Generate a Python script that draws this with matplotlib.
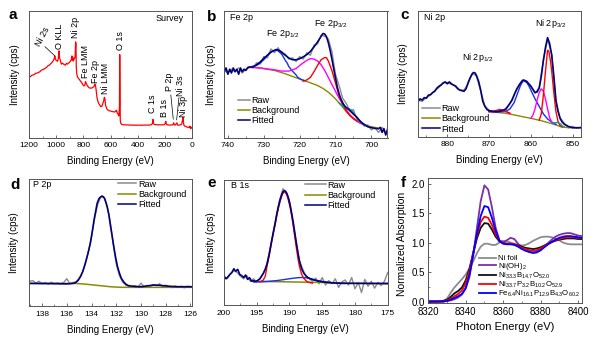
import numpy as np
import matplotlib
matplotlib.use('Agg')
import matplotlib.pyplot as plt
from matplotlib.ticker import MultipleLocator, FormatStrFormatter

plt.rcParams['font.family'] = ['Liberation Sans', 'DejaVu Sans']
plt.rcParams['mathtext.fontset'] = 'custom'
plt.rcParams['mathtext.rm'] = 'Liberation Sans'
plt.rcParams['mathtext.it'] = 'Liberation Sans:italic'
plt.rcParams['mathtext.default'] = 'regular'

# ---------------- data (intensities in % of panel height) ----------------
# a: survey spectrum (binding energy, intensity)
a_survey = [(1200, 48.3), (1190, 48.0), (1180, 49.1), (1170, 49.5), (1160, 49.9), (1150, 50.8), (1140, 50.9),
            (1130, 51.5), (1120, 52.0), (1110, 53.1), (1100, 53.6), (1090, 54.0), (1080, 54.9), (1070, 55.5),
            (1060, 56.8), (1050, 57.2), (1040, 58.4), (1030, 59.4), (1020, 61.0), (1014, 62.5), (1010, 64.5),
            (1005, 61.5), (998, 61.0), (990, 60.2), (984, 62.5), (979, 68.5), (975, 63.0), (970, 61.0),
            (962, 58.0), (955, 58.8), (948, 58.2), (940, 57.6), (932, 57.2), (925, 58.6), (918, 58.0),
            (910, 58.8), (902, 59.4), (895, 60.4), (889, 61.5), (884, 64.5), (881, 61.0), (878, 63.5),
            (874, 60.5), (869, 61.8), (864, 62.5), (860, 65.0), (857, 75.6), (854, 74.0), (852, 56.0),
            (848, 50.0), (843, 48.0), (836, 46.6), (828, 45.8), (820, 44.3), (812, 43.5), (804, 41.8),
            (796, 40.8), (790, 41.0), (784, 44.2), (779, 43.0), (772, 41.2), (764, 40.0), (756, 39.2),
            (746, 39.0), (736, 39.2), (728, 39.8), (720, 40.6), (714, 42.2), (710, 40.8), (705, 37.0),
            (700, 32.0), (694, 29.0), (688, 27.2), (680, 25.8), (672, 24.4), (664, 24.6), (656, 27.0),
            (650, 29.0), (645, 31.8), (641, 30.5), (636, 25.5), (628, 22.8), (620, 21.8), (610, 21.2),
            (600, 20.9), (590, 20.6), (580, 20.4), (570, 20.1), (562, 20.8), (556, 21.6), (550, 19.2),
            (544, 18.4), (538, 17.0), (534, 25.0), (532, 65.5), (530, 40.0), (528, 13.5), (524, 11.2),
            (518, 10.4), (510, 10.1), (490, 10.0), (470, 9.9), (450, 9.8), (430, 9.8), (410, 9.7),
            (390, 9.8), (370, 9.7), (350, 9.8), (330, 9.8), (310, 9.9), (298, 10.2), (292, 11.0),
            (287, 14.3), (283, 11.0), (278, 10.3), (260, 10.1), (240, 10.0), (220, 10.0), (205, 10.1),
            (198, 10.8), (193, 12.8), (189, 10.6), (182, 10.0), (165, 9.8), (150, 9.9), (140, 10.2),
            (135, 11.6), (131, 10.0), (124, 9.8), (116, 10.9), (111, 11.6), (106, 9.8), (96, 9.8),
            (86, 10.0), (76, 10.6), (70, 13.5), (67, 16.0), (64, 13.0), (60, 9.8), (50, 8.8), (40, 8.4),
            (30, 8.0), (20, 8.2), (15, 9.0), (11, 7.0), (7, 8.2), (3, 7.6), (0, 7.5)]
# peak labels: text, energy, bottom of text
a_labels = [('O KLL', 976, 70), ('Ni 2p', 860, 79), ('Fe LMM', 785, 47), ('Fe 2p', 712, 43),
            ('Ni LMM', 636, 34), ('O 1s', 530, 69.5), ('C 1s', 290, 19), ('B 1s', 203, 16.5),
            ('P 2p', 167, 36.5), ('Ni 3s', 88, 33), ('Ni 3p', 64, 16.5)]

# b: Fe 2p
b_raw = [(741, 53), (740, 51), (739, 54), (738, 52), (737, 55), (736, 51), (735, 54), (734, 56), (733, 55),
         (732, 59), (731, 58), (730, 64), (729, 63), (728, 70), (727, 67), (726, 71), (725, 66), (724, 66),
         (723, 62), (722, 63), (721, 60), (720, 64), (719, 62), (718, 67), (717, 65), (716, 73), (715, 74),
         (714, 81), (713, 80), (712, 78), (711, 68), (710, 50), (709, 41), (708, 31), (707, 27), (706, 21),
         (705, 22), (704, 14), (703, 13), (702, 9), (701, 10), (700, 6), (699, 8), (698, 4), (697, 8),
         (696, 3), (695.5, 7)]
b_fit = [(741, 52), (740.5, 55), (740, 50), (739.5, 54), (739, 51), (738.5, 55), (738, 52), (737.5, 54),
         (737, 50), (736.5, 55), (736, 52), (735.5, 54), (735, 53), (734.5, 55), (734, 55.5), (733, 55.7),
         (732, 57.5), (731, 59.7), (730, 62.5), (729, 65), (728, 67.5), (727, 69), (726.5, 69.5), (726, 69.3),
         (725, 67.6), (724, 65), (723, 62.8), (722, 61.5), (721, 61.4), (720, 62.3), (719, 63.7), (718, 65.5),
         (717, 68), (716, 71.6), (715, 75.5), (714, 80), (713.5, 82.2), (713, 81.8), (712.5, 79.6), (712, 75),
         (711.5, 69), (711, 62), (710.5, 54.4), (710, 47), (709.5, 39.8), (709, 34.5), (708.5, 30.5),
         (708, 27.5), (707.5, 25.2), (707, 23.7), (706.5, 22.5), (706, 21.3), (705.5, 19.9), (705, 18.5),
         (704, 15.9), (703, 12.5), (702, 10.3), (701, 8.5), (700, 7.8), (699, 7.2), (698, 6.9), (697.5, 8),
         (697, 4), (696.5, 7), (696, 2), (695.5, 6)]
b_bg = [(734.4, 55.7), (731, 54.9), (727, 53), (724, 50.4), (721, 47.2), (718, 44.3), (715, 41.1), (713.5, 38.8),
        (712, 35.8), (711, 33.3), (710, 30.5), (709, 27.3), (708, 23.9), (707, 20.5), (706, 17.2), (705, 14.8),
        (704, 12.7), (703, 11.2), (702, 10), (701, 9.1), (700, 8.5), (699, 7.9), (698, 7.4)]
b_blue = [(734, 55.7), (732, 57), (731, 58.9), (730, 61.5), (729, 64.7), (728, 67.5), (727.5, 68.4), (726.5, 69),
          (726, 68.5), (725, 66), (724, 61), (723.5, 59), (723, 56), (722, 52.5), (721, 49.5), (720.5, 47.5),
          (719.5, 45.8), (718.5, 44.8)]
b_mag = [(734, 55.7), (731, 55), (729, 54.2), (727, 53.5), (725, 52.5), (723, 52.5), (721, 54.5), (719.5, 58),
         (718, 61), (717, 62.3), (716, 62), (715, 60.5), (714, 57.5), (713, 53), (712, 47.5), (711, 42),
         (710, 36.5), (709, 31), (708, 26.5), (707, 22), (706, 18), (705, 15.2), (704, 13), (703, 11.3), (702, 10)]
b_red = [(719, 44.5), (718, 45.5), (717, 47.5), (716, 52), (715, 57), (714, 61.5), (713, 63.2), (712.5, 63),
         (712, 60.5), (711, 53), (710, 43), (709, 33), (708, 26), (707, 21), (706, 17.5), (705, 15), (704, 13)]
b_teal = [(709, 27.3), (708, 25), (707, 23.5), (706.3, 23), (705.5, 21.5), (704.5, 17.5), (703.5, 13.5),
          (702.5, 11), (701.5, 9.6)]

# c: Ni 2p
c_raw = [(887, 29), (886, 28), (885, 31), (884, 33), (883, 36.5), (882, 39), (881, 43), (880, 43), (879, 41.5),
         (878, 40.5), (877, 37), (876, 37), (875, 42), (874, 50.5), (873, 48), (872, 36), (871, 24.5), (870, 21),
         (869, 19), (868, 20.5), (867, 20), (866, 22.5), (865, 26), (864, 33.5), (863, 39.5), (862, 45),
         (861, 43.5), (860, 40.5), (859, 34.5), (858, 39), (857, 61), (856, 77.5), (855, 65.5), (854, 28),
         (853, 15), (852, 10.5), (851, 7), (850, 8), (849, 6.5), (848, 7.5)]
c_fit = [(887, 28), (886.5, 30), (886, 29), (885.5, 31), (885, 30.5), (884.5, 33), (884, 33.4), (883.5, 35),
         (883, 36), (882.5, 38.5), (882, 40), (881.5, 41), (881, 42.5), (880.5, 43.5), (880, 42), (879.5, 43.5),
         (879, 42), (878.5, 41), (878, 40), (877.5, 38), (877, 37), (876.5, 36.5), (876, 36), (875.5, 38),
         (875, 43), (874.5, 47), (874, 50), (873.7, 51), (873.3, 50.5), (873, 48.5), (872.5, 44), (872, 37),
         (871.5, 28), (871, 24), (870.5, 21.5), (870, 20.6), (869, 20), (868, 19.8), (867, 20.5), (866, 21.7),
         (865.5, 24), (865, 26.5), (864.5, 29), (864, 33), (863.5, 37), (863, 40), (862.5, 42.5), (862, 44.5),
         (861.7, 45), (861, 44), (860.5, 42), (860, 40), (859.5, 37.5), (859, 35), (858.5, 35.5), (858, 38.6),
         (857.5, 48), (857, 60.6), (856.5, 71), (856, 78.8), (855.5, 74), (855, 64.7), (854.5, 48), (854, 29),
         (853.5, 20), (853, 14.4), (852.5, 11.5), (852, 9.8), (851, 8), (850, 7), (849, 7), (848, 7)]
c_bg = [(870, 19.8), (868, 19.2), (866, 18.5), (864, 17.2), (862, 15.8), (860, 14.5), (858, 13), (856, 11.2),
        (855, 10.3), (854, 9.2), (853, 8), (852, 7.4), (851, 7), (850, 7), (848, 7)]
c_blue = [(870, 19.8), (868, 19.5), (866, 20), (865, 22), (864, 27), (863, 36), (862.5, 40.5), (862, 43.5),
          (861.7, 44.5), (861, 43), (860.5, 40.5), (860, 37), (859, 30), (858, 24), (857, 18), (856, 14),
          (855, 11.5), (854, 9.6)]
c_red_sat = [(870, 19.8), (869, 20.2), (868, 21), (867.5, 21.5), (867, 21.3), (866, 20), (865, 18.6)]
c_red = [(858, 13), (857.5, 18), (857, 33), (856.5, 52), (856.2, 62), (856, 68.8), (855.7, 68), (855.3, 60),
         (855, 52), (854.5, 35), (854, 20), (853.5, 12), (853, 8.5), (852.5, 7.5)]
c_mag_sat = [(869, 19.6), (868, 20.3), (867, 20.6), (866, 20), (865, 18.2)]
c_mag = [(860, 14.5), (859.5, 17), (859, 22), (858.5, 29), (858, 35), (857.5, 38), (857, 36), (856.5, 30),
         (856, 22), (855.5, 15), (855, 11.5), (854.5, 10)]
c_teal = [(855, 10.5), (854.5, 10.8), (854, 11), (853.5, 11.2), (853, 10.2), (852.5, 8.5), (852, 7.6)]

# d: P 2p
d_raw = [(139.0, 19.5), (138.75, 20), (138.5, 18), (138.25, 19.5), (138.0, 17.5), (137.75, 18.5), (137.5, 17.2),
         (137.25, 18.8), (137.0, 17.5), (136.75, 18.2), (136.5, 17.5), (136.25, 18.6), (136.0, 21.5),
         (135.75, 17.5), (135.5, 18.5), (135.25, 19), (135.0, 22), (134.75, 26), (134.5, 34), (134.25, 43),
         (134.0, 55), (133.75, 69), (133.5, 80), (133.25, 86), (133.0, 85.5), (132.75, 79), (132.5, 67),
         (132.25, 49), (132.0, 33), (131.75, 24), (131.5, 19), (131.25, 16.5), (131.0, 15.5), (130.75, 15),
         (130.5, 16), (130.25, 14.8), (130.0, 18), (129.75, 15), (129.5, 16.2), (129.25, 15.5), (129.0, 17),
         (128.75, 16), (128.5, 17.5), (128.25, 15.2), (128.0, 16.5), (127.75, 15), (127.5, 14.5),
         (127.25, 15.8), (127.0, 14.8), (126.75, 15.5), (126.5, 14.3), (126.25, 15.6), (126.0, 14.8)]
d_fit = [(139.1, 17.8), (137, 17.6), (136, 17.4), (135.5, 17.8), (135.3, 18.4), (135.1, 20), (134.9, 23),
         (134.7, 27.5), (134.5, 33.6), (134.3, 41), (134.1, 49.3), (133.95, 58), (133.8, 67.7), (133.65, 75.5),
         (133.55, 80.8), (133.4, 84.5), (133.3, 85.6), (133.15, 86.6), (133.05, 86), (132.95, 84.8),
         (132.85, 82), (132.74, 78.2), (132.6, 72), (132.5, 65.1), (132.35, 56), (132.2, 46.7), (132.05, 38),
         (131.9, 31), (131.75, 26), (131.6, 22), (131.4, 19), (131.2, 17), (131, 16), (130.5, 15.4),
         (130, 15.2), (129.5, 15.8), (129, 16.5), (128.5, 16.3), (128, 15.8), (127.5, 15.4), (127, 15.2),
         (125.9, 15.2)]
d_bg = [(139.1, 17.8), (135.5, 17.8), (135, 17.6), (134.5, 17.2), (134, 16.7), (133.5, 16.2), (133, 15.7),
        (132.5, 15.2), (132, 14.9), (131.5, 14.7), (130, 14.7), (125.9, 14.7)]

# e: B 1s
e_raw = [(200, 22), (199.5, 21), (199, 25), (198.5, 27.5), (198, 26), (197.5, 23), (197, 21), (196.5, 23.5),
         (196, 19), (195.5, 21), (195, 18.5), (194.5, 21.5), (194, 25), (193.5, 32), (193, 44), (192.5, 57),
         (192, 71), (191.5, 84), (191, 93), (190.5, 90), (190, 83), (189.5, 67), (189, 51), (188.5, 36),
         (188, 29), (187.5, 23), (187, 21), (186.5, 19), (186, 21.5), (185.5, 17), (185, 22), (184.5, 16),
         (184, 19.5), (183.5, 17), (183, 21), (182.5, 14), (182, 18.5), (181.5, 20), (181, 16), (180.5, 22),
         (180, 13), (179.5, 18), (179, 10), (178.5, 20.5), (178, 15), (177.5, 19), (177, 13.5), (176.5, 18),
         (176, 15.5), (175.5, 19), (175, 26)]
e_fit = [(200, 23.2), (199.7, 21), (199.4, 22.5), (199.1, 24.5), (198.8, 26), (198.5, 29), (198.2, 27),
         (197.9, 28.5), (197.6, 24.5), (197.3, 23.5), (197, 22), (196.7, 24), (196.4, 20.5), (196.1, 21.8),
         (195.8, 19), (195.5, 19.5), (195.2, 18.8), (194.9, 19.5), (194.5, 21), (194, 25.3), (193.7, 28.5),
         (193.4, 33.3), (193.1, 40.5), (192.8, 49.3), (192.5, 57.5), (192.2, 65.3), (191.95, 72.5),
         (191.7, 78.7), (191.45, 84), (191.2, 88), (191, 90.5), (190.8, 91.5), (190.6, 91), (190.4, 89.3),
         (190.15, 85.5), (189.9, 80), (189.65, 73), (189.4, 65.3), (189.15, 56.5), (188.9, 48), (188.65, 40),
         (188.4, 33.3), (188.1, 28.5), (187.8, 25.3), (187.5, 23.5), (187.2, 22), (186.8, 21), (186.5, 20.5),
         (186, 19.7), (185.5, 19), (184.5, 18.2), (184, 17.9), (183, 17.6), (182, 17.3), (175, 17.3)]
e_red = [(194.5, 18.4), (194, 20), (193.7, 23), (193.4, 32), (193.1, 39.5), (192.8, 48), (192.5, 56.5),
         (192.2, 64), (191.95, 71), (191.7, 77.3), (191.45, 82.5), (191.2, 87), (191, 89.5), (190.8, 90.4),
         (190.6, 89.8), (190.4, 88), (190.15, 83.5), (189.9, 78), (189.65, 71), (189.4, 62.5), (189.15, 53),
         (188.9, 44), (188.65, 35.5), (188.4, 29.3), (188.1, 24), (187.8, 21.3), (187.5, 19.5), (187.2, 18.4),
         (186.8, 17.8), (186.5, 17.5)]
e_blue = [(195.5, 18.4), (194, 18.6), (193, 19), (192, 19.5), (191, 20.2), (190, 21), (189, 21.7), (188.3, 22),
          (187.5, 21.8), (187, 21.3), (186.3, 20.3), (185.5, 19.3), (184.5, 18.4), (183.5, 17.9), (182.5, 17.5),
          (181.5, 17.3)]
e_bg = [(195.5, 19), (185, 18), (175, 16.8)]

# f: Ni K-edge XANES
f_energy = [8320, 8325, 8328, 8330, 8332, 8334, 8336, 8338, 8340, 8342, 8344, 8346, 8348, 8350, 8352, 8354,
            8356, 8358, 8360, 8362, 8364, 8366, 8368, 8370, 8372, 8374, 8376, 8378, 8380, 8382, 8384, 8386,
            8388, 8390, 8392, 8394, 8396, 8398, 8400, 8402]
f_ni_foil = [0, 0, 0.01, 0.05, 0.15, 0.24, 0.31, 0.38, 0.46, 0.56, 0.68, 0.82, 0.93, 0.98, 0.98, 0.96, 0.96,
             1.0, 1.03, 1.02, 1.0, 0.98, 0.96, 0.95, 0.96, 0.99, 1.03, 1.06, 1.09, 1.1, 1.1, 1.09, 1.07, 1.04,
             1.0, 0.98, 0.97, 0.97, 0.97, 0.97]
f_ni_oh2 = [0, 0, 0, 0.01, 0.02, 0.04, 0.07, 0.12, 0.22, 0.42, 0.78, 1.25, 1.7, 1.97, 1.9, 1.6, 1.25, 1.04, 1.0,
            1.04, 1.08, 1.06, 0.98, 0.92, 0.87, 0.84, 0.82, 0.83, 0.87, 0.93, 0.99, 1.05, 1.1, 1.13, 1.15,
            1.16, 1.16, 1.14, 1.12, 1.11]
f_nibo = [0, 0, 0.01, 0.03, 0.08, 0.14, 0.18, 0.24, 0.36, 0.56, 0.82, 1.07, 1.25, 1.33, 1.32, 1.22, 1.1, 1.02,
          0.99, 0.98, 0.98, 0.97, 0.95, 0.93, 0.91, 0.9, 0.89, 0.9, 0.92, 0.95, 0.98, 1.01, 1.03, 1.05, 1.06,
          1.07, 1.07, 1.07, 1.06, 1.06]
f_nipbo = [0, 0, 0, 0.02, 0.05, 0.09, 0.13, 0.19, 0.31, 0.52, 0.83, 1.12, 1.35, 1.44, 1.42, 1.3, 1.14, 1.03,
           0.99, 0.98, 0.98, 0.97, 0.94, 0.91, 0.89, 0.87, 0.86, 0.87, 0.9, 0.94, 0.98, 1.01, 1.04, 1.06, 1.08,
           1.09, 1.09, 1.09, 1.08, 1.08]
f_fenipbo = [0, 0, 0, 0.01, 0.03, 0.06, 0.09, 0.13, 0.23, 0.45, 0.8, 1.15, 1.45, 1.62, 1.6, 1.42, 1.2, 1.03,
             0.98, 0.97, 0.97, 0.96, 0.93, 0.89, 0.86, 0.84, 0.83, 0.84, 0.87, 0.92, 0.97, 1.01, 1.05, 1.08,
             1.1, 1.11, 1.11, 1.1, 1.09, 1.08]
f_names = ['Ni foil', 'Ni(OH)$_2$', 'Ni$_{33.3}$B$_{14.7}$O$_{52.0}$',
           'Ni$_{33.7}$P$_{3.2}$B$_{10.2}$O$_{52.9}$',
           'Fe$_{6.4}$Ni$_{16.1}$P$_{12.9}$B$_{4.3}$O$_{60.2}$']
f_colors = ['#8c8c8c', '#7b2fa8', '#111111', '#ff0000', '#0000ff']

RAW = '#8c8c8c'
BG = '#8c8a00'
FIT = '#00007a'
BLUE = '#1530f0'
RED = '#ff0000'
MAG = '#ff00ff'
TEAL = '#009a9a'
SPINE = '#555555'


def xy(pairs):
    arr = np.array(pairs, dtype=float)
    return arr[:, 0], arr[:, 1]


fig = plt.figure(figsize=(6, 3.43), dpi=100)


def add_ax(l, r, t, b):
    return fig.add_axes([l / 600, 1 - b / 343, (r - l) / 600, (b - t) / 343])


def style(ax, xlim, major, minor, ylab_x):
    ax.set_xlim(*xlim)
    ax.set_ylim(0, 100)
    ax.xaxis.set_major_locator(MultipleLocator(major))
    ax.xaxis.set_minor_locator(MultipleLocator(minor))
    ax.set_yticks([])
    ax.tick_params(axis='x', which='both', direction='in', labelsize=6, pad=3.5, color=SPINE)
    ax.tick_params(axis='x', which='major', length=2.5, width=0.6)
    ax.tick_params(axis='x', which='minor', length=1.5, width=0.5)
    for s in ax.spines.values():
        s.set_color(SPINE)
        s.set_linewidth(0.7)
    ax.set_xlabel('Binding Energy (eV)', fontsize=7, labelpad=5)
    ax.set_ylabel('Intensity (cps)', fontsize=7)
    ax.yaxis.set_label_coords(ylab_x, 0.5)


def fit_legend(ax, anchor, hl, ls=0.15):
    h = [plt.Line2D([], [], color=RAW, lw=1.1), plt.Line2D([], [], color=BG, lw=1.1),
         plt.Line2D([], [], color=FIT, lw=1.1)]
    ax.legend(h, ['Raw', 'Background', 'Fitted'], loc='upper left', bbox_to_anchor=anchor, frameon=False,
              fontsize=6.5, handlelength=hl, handletextpad=0.2, labelspacing=ls, borderpad=0,
              borderaxespad=0)


# ---- a: survey ----
ax = add_ax(29, 192, 11, 137.5)
x, y = xy(a_survey)
ax.plot(x, y, color=RED, lw=0.9)
style(ax, (1200, 0), 200, 100, -0.055)
for txt, e, yb in a_labels:
    ax.text(e, yb, txt, rotation=90, ha='center', va='bottom', fontsize=6.5)
ax.text(1097, 80, 'Ni 2s', rotation=62, ha='center', va='center', fontsize=6.5)
ax.plot([1082, 1010], [71.8, 64.5], color='k', lw=0.5)
ax.plot([156, 138], [33.6, 14.5], color='k', lw=0.5)
ax.plot([96, 113], [31.5, 14], color='k', lw=0.5)
ax.text(0.779, 0.942, 'Survey', transform=ax.transAxes, ha='left', va='center', fontsize=6.5)

# ---- b: Fe 2p ----
ax = add_ax(224.3, 387.5, 11, 137.5)
ax.plot(*xy(b_raw), color=RAW, lw=1.0)
ax.plot(*xy(b_bg), color=BG, lw=1.0)
ax.plot(*xy(b_blue), color=BLUE, lw=1.0)
ax.plot(*xy(b_mag), color=MAG, lw=1.0)
ax.plot(*xy(b_red), color=RED, lw=1.0)
ax.plot(*xy(b_teal), color=TEAL, lw=1.0)
ax.plot(*xy(b_fit), color=FIT, lw=1.2)
style(ax, (741, 695.5), 10, 5, -0.053)
ax.text(0.035, 0.95, 'Fe 2p', transform=ax.transAxes, ha='left', va='center', fontsize=6.5)
ax.text(0.2555, 0.816, r'Fe 2p$_{\mathit{1/2}}$', transform=ax.transAxes, ha='left', va='center', fontsize=6.5)
ax.text(0.551, 0.897, r'Fe 2p$_{\mathit{3/2}}$', transform=ax.transAxes, ha='left', va='center', fontsize=6.5)
fit_legend(ax, (0.084, 0.33), 1.3)

# ---- c: Ni 2p ----
ax = add_ax(418, 581, 11, 136.5)
ax.plot(*xy(c_raw), color=RAW, lw=1.0)
ax.plot(*xy(c_bg), color=BG, lw=1.0)
ax.plot(*xy(c_blue), color=BLUE, lw=1.0)
ax.plot(*xy(c_mag_sat), color=MAG, lw=1.0)
ax.plot(*xy(c_red_sat), color=RED, lw=1.0)
ax.plot(*xy(c_mag), color=MAG, lw=1.0)
ax.plot(*xy(c_red), color=RED, lw=1.0)
ax.plot(*xy(c_teal), color=TEAL, lw=1.0)
ax.plot(*xy(c_fit), color=FIT, lw=1.2)
style(ax, (887, 848), 10, 5, -0.062)
ax.text(0.037, 0.95, 'Ni 2p', transform=ax.transAxes, ha='left', va='center', fontsize=6.5)
ax.text(0.272, 0.631, r'Ni 2p$_{\mathit{1/2}}$', transform=ax.transAxes, ha='left', va='center', fontsize=6.5)
ax.text(0.718, 0.902, r'Ni 2p$_{\mathit{3/2}}$', transform=ax.transAxes, ha='left', va='center', fontsize=6.5)
fit_legend(ax, (0.023, 0.26), 2.0)

# ---- d: P 2p ----
ax = add_ax(28.5, 191.7, 179, 306)
ax.plot(*xy(d_raw), color=RAW, lw=1.0)
ax.plot(*xy(d_bg), color=BG, lw=1.1)
ax.plot(*xy(d_fit), color=FIT, lw=1.2)
style(ax, (139.1, 125.9), 2, 1, -0.058)
ax.text(0.03, 0.96, 'P 2p', transform=ax.transAxes, ha='left', va='center', fontsize=6.5)
fit_legend(ax, (0.548, 0.995), 2.0)

# ---- e: B 1s ----
ax = add_ax(224, 387.7, 180, 305)
ax.plot(*xy(e_raw), color=RAW, lw=1.0)
ax.plot(*xy(e_bg), color=BG, lw=1.1)
ax.plot(*xy(e_blue), color=BLUE, lw=1.0)
ax.plot(*xy(e_red), color=RED, lw=1.0)
ax.plot(*xy(e_fit), color=FIT, lw=1.2)
style(ax, (200, 175), 5, 2.5, -0.049)
ax.text(0.043, 0.96, 'B 1s', transform=ax.transAxes, ha='left', va='center', fontsize=6.5)
fit_legend(ax, (0.495, 0.995), 2.3)

# ---- f: XANES ----
ax = add_ax(428.3, 581.7, 177.7, 303.3)
for vals, name, col in zip([f_ni_foil, f_ni_oh2, f_nibo, f_nipbo, f_fenipbo], f_names, f_colors):
    ax.plot(f_energy, vals, color=col, lw=1.3, label=name)
ax.set_xlim(8320, 8402)
ax.set_ylim(-0.03, 2.1)
ax.xaxis.set_major_locator(MultipleLocator(20))
ax.xaxis.set_minor_locator(MultipleLocator(10))
ax.yaxis.set_major_locator(MultipleLocator(0.5))
ax.yaxis.set_minor_locator(MultipleLocator(0.25))
ax.yaxis.set_major_formatter(FormatStrFormatter('%.1f'))
ax.tick_params(which='both', direction='in', labelsize=7, pad=2.5, color=SPINE)
ax.tick_params(which='major', length=2.5, width=0.6)
ax.tick_params(which='minor', length=1.5, width=0.5)
for s in ax.spines.values():
    s.set_color(SPINE)
    s.set_linewidth(0.7)
ax.set_xlabel('Photon Energy (eV)', fontsize=8, labelpad=3.5)
ax.set_ylabel('Normalized Absorption', fontsize=7.5)
ax.yaxis.set_label_coords(-0.141, 0.47)
ax.legend(loc='upper left', bbox_to_anchor=(0.33, 0.385), frameon=False, fontsize=5.6, handlelength=2.2,
          handletextpad=0.2, labelspacing=-0.15, borderpad=0, borderaxespad=0)

# panel letters
for letter, px, py in [('a', 13, 15), ('b', 211.7, 16.7), ('c', 405, 15), ('d', 15, 185),
                       ('e', 211.7, 183.3), ('f', 403.3, 183.3)]:
    fig.text(px / 600, 1 - py / 343, letter, fontsize=11, fontweight='bold', ha='center', va='center')

fig.savefig('out.png', dpi=100)
